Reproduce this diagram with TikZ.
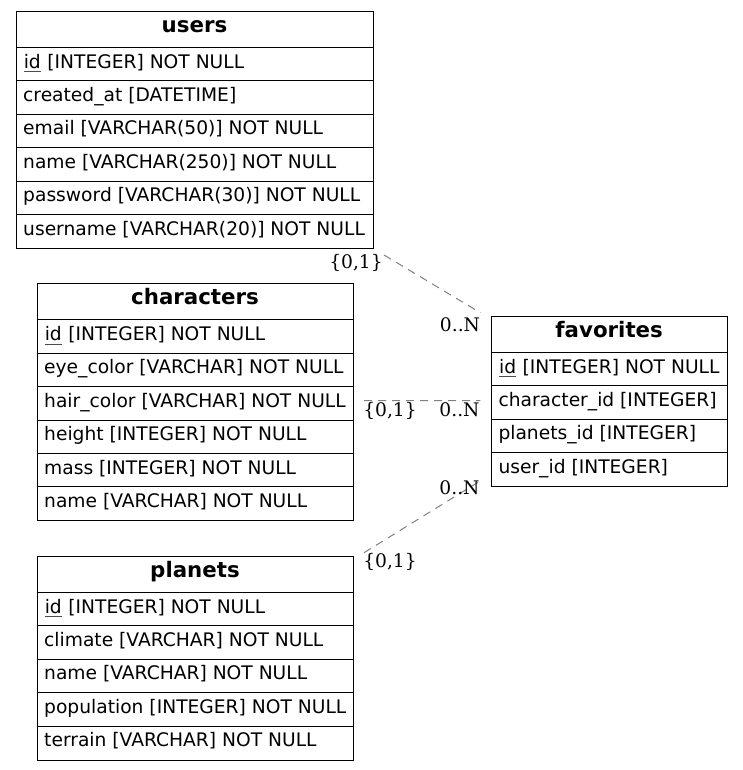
\documentclass[tikz,border=0pt]{standalone}
\usepackage{fontspec}
\setmainfont{DejaVu Sans}
\newfontfamily\cardfont{DejaVu Serif}
\usetikzlibrary{calc}

\tikzset{
  tablebox/.style={draw=black, line width=1pt, rectangle, inner sep=0pt,
    anchor=north west},
  rowline/.style={draw=black, line width=1pt},
  headtext/.style={inner sep=0pt, anchor=base,
    font=\fontsize{21.33}{25}\selectfont\bfseries},
  fieldtext/.style={inner sep=0pt, anchor=base west,
    font=\fontsize{18.67}{22}\selectfont},
  card/.style={inner sep=0pt, font=\cardfont\fontsize{18.67}{22}\selectfont},
  rel/.style={draw=gray, line width=1pt, dash pattern=on 8pt off 6pt},
}

% primary key field: thin underline below the name
\newcommand{\pk}[1]{\tikz[baseline=(t.base)]{%
  \node[inner sep=0pt] (t) {#1};
  \draw[line width=0.8pt, black!70] ([yshift=-3.5pt]t.base west) -- ([yshift=-3.5pt]t.base east);}}

% #1 name, #2 left, #3 top, #4 width, #5 number of fields, #6 title, #7 fields
\newcommand{\erdtable}[7]{%
  \pgfmathsetmacro\erheight{36.8+33.4*#5}%
  \node[tablebox, minimum width=#4pt, minimum height=\erheight pt] (#1) at (#2,#3) {};
  \node[headtext] (#1-head) at ({#2+#4/2},{#3+21.3}) {#6};
  \foreach \fld [count=\i from 0] in {#7} {
    \draw[rowline] ({#2},{#3+36.8+33.4*\i}) -- ++(#4,0);
    \node[fieldtext] (#1-\i) at ({#2+7},{#3+36.8+33.4*\i+20.6}) {\fld};
  }
}

\begin{document}
\begin{tikzpicture}[x=1pt, y=-1pt]
  \useasboundingbox (0,0) rectangle (743,770);

  \erdtable{users}{16}{10.8}{357}{6}{users}{%
    {\pk{id} [INTEGER] NOT NULL},
    {created\_at [DATETIME]},
    {email [VARCHAR(50)] NOT NULL},
    {name [VARCHAR(250)] NOT NULL},
    {password [VARCHAR(30)] NOT NULL},
    {username [VARCHAR(20)] NOT NULL}}

  \erdtable{characters}{37}{283}{316}{6}{characters}{%
    {\pk{id} [INTEGER] NOT NULL},
    {eye\_color [VARCHAR] NOT NULL},
    {hair\_color [VARCHAR] NOT NULL},
    {height [INTEGER] NOT NULL},
    {mass [INTEGER] NOT NULL},
    {name [VARCHAR] NOT NULL}}

  \erdtable{planets}{37}{555.7}{316}{5}{planets}{%
    {\pk{id} [INTEGER] NOT NULL},
    {climate [VARCHAR] NOT NULL},
    {name [VARCHAR] NOT NULL},
    {population [INTEGER] NOT NULL},
    {terrain [VARCHAR] NOT NULL}}

  \erdtable{favorites}{491.3}{315.7}{235.7}{4}{favorites}{%
    {\pk{id} [INTEGER] NOT NULL},
    {character\_id [INTEGER]},
    {planets\_id [INTEGER]},
    {user\_id [INTEGER]}}

  % relationship end points, just outside the tables
  \coordinate (u-out) at ($(users.south east)+(10,6)$);
  \coordinate (f-in-u) at ($(favorites.north west)+(-11,-3)$);
  \coordinate (c-out) at ($(characters.north east)+(10,117.5)$);
  \coordinate (f-in-c) at ($(favorites.north west)+(-11,85)$);
  \coordinate (p-out) at ($(planets.north east)+(10,-3)$);
  \coordinate (f-in-p) at ($(favorites.south west)+(-13,-5)$);

  \draw[rel] (u-out) -- (f-in-u);
  \draw[rel] (c-out) -- (f-in-c);
  \draw[rel] (p-out) -- (f-in-p);

  % cardinalities
  \node[card] (card-u) at (356,262.5) {\{0,1\}};
  \node[card] (card-fu) at (460,325) {0..N};
  \node[card] (card-c) at (390,411) {\{0,1\}};
  \node[card] (card-fc) at (459.5,410) {0..N};
  \node[card] (card-fp) at (459.5,488) {0..N};
  \node[card] (card-p) at (390,562) {\{0,1\}};
\end{tikzpicture}
\end{document}
